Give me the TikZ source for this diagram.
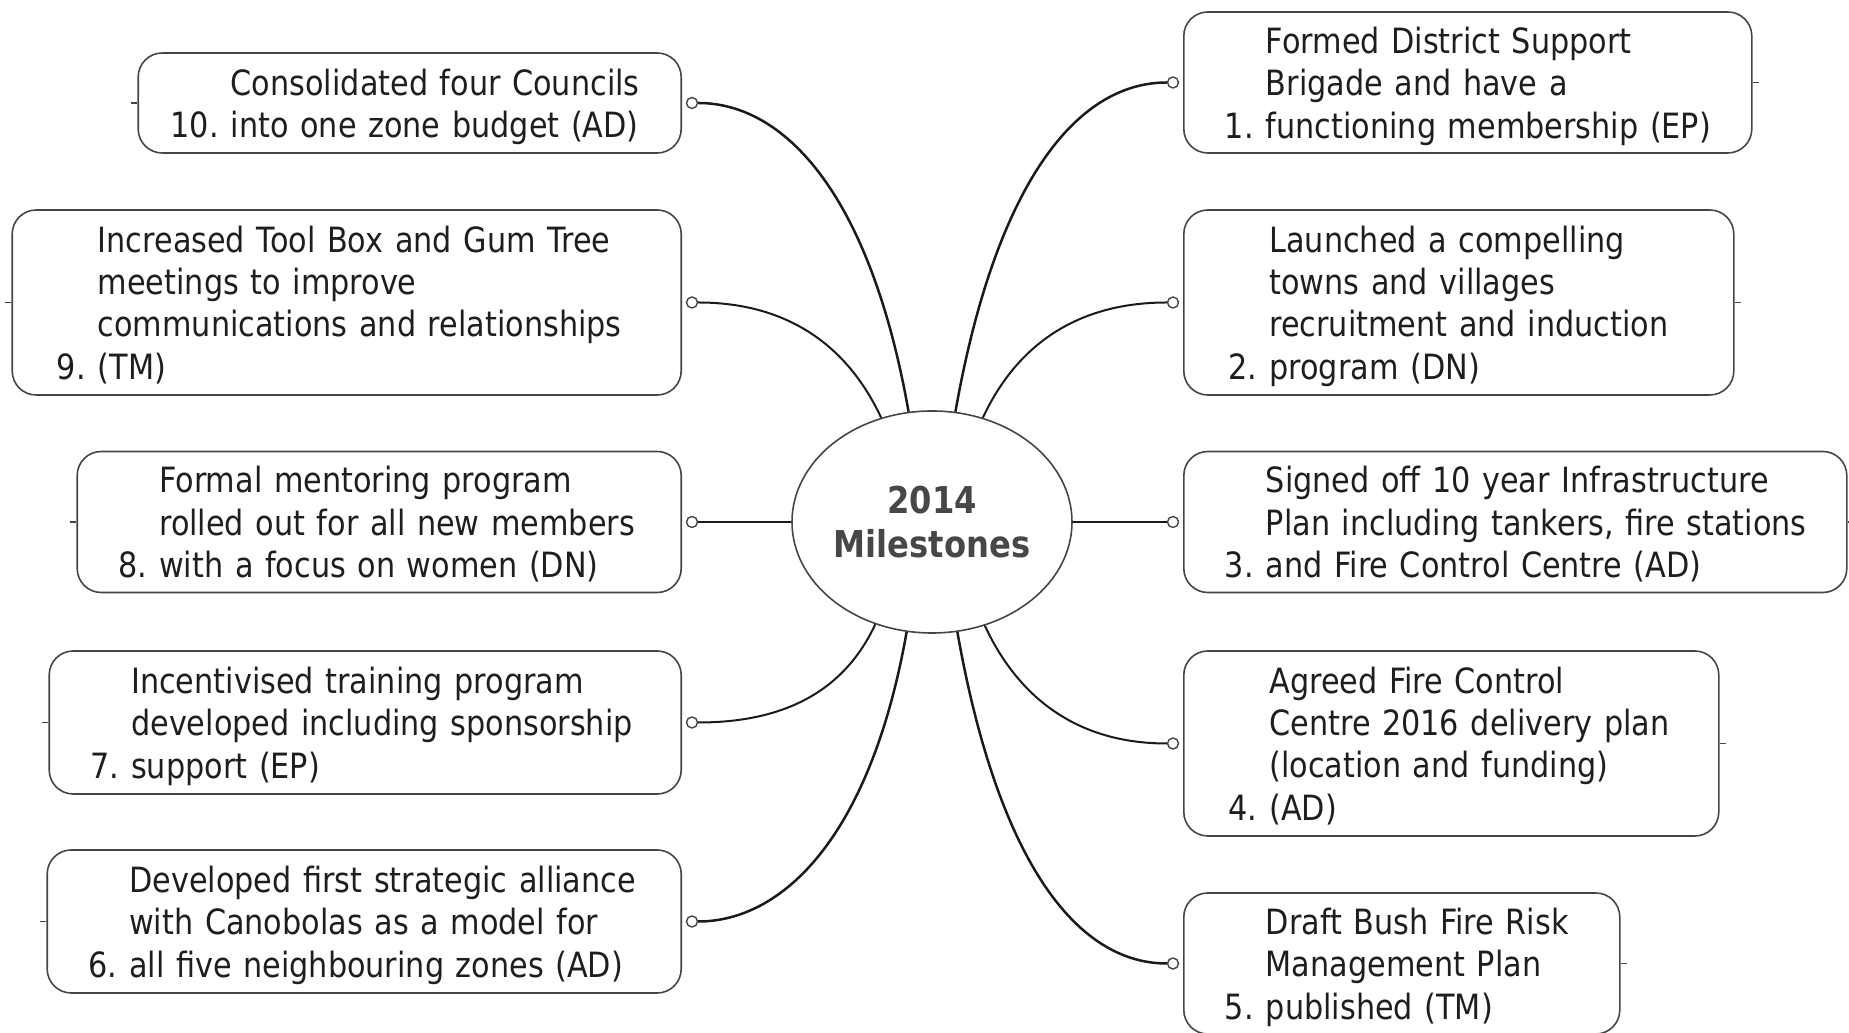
\documentclass[tikz,border=0pt]{standalone}
\usepackage{fontspec}
\setmainfont{DejaVu Sans}[FakeStretch=0.87]
\usetikzlibrary{shapes.geometric}
\definecolor{inkc}{HTML}{1E1E1E}
\definecolor{linec}{HTML}{454545}
\definecolor{wirec}{HTML}{1A1A1A}
\definecolor{hubc}{HTML}{474747}
\newlength\lblw
\setlength\lblw{37pt}
\newcommand\lbl[1]{\makebox[\lblw][r]{#1\hspace{6pt}}}
\newcommand\mstext[1]{\raisebox{-2.4pt}[\height][\depth]{\begin{tabular}{@{}l@{}}#1\end{tabular}}}

\begin{document}
\begin{tikzpicture}[x=0.5pt,y=0.5pt,
    mbox/.style={draw=linec,line width=0.8pt,rounded corners=12pt,inner xsep=4pt,inner ysep=2pt,
      align=left,text=inkc,font=\fontsize{17.4}{21.2}\selectfont},
    lbox/.style={mbox,anchor=east},
    rbox/.style={mbox,anchor=west},
    wide/.style={execute at begin node={\setlength\lblw{#1}}},
    port/.style={circle,draw=linec,fill=white,line width=0.7pt,inner sep=0pt,minimum size=5.5pt},
    link/.style={wirec,line width=1pt},
    inner link/.style={wirec,line width=1.25pt}]

  \useasboundingbox (0,0) rectangle (1849,1033);

  \node[ellipse,draw=linec,line width=0.8pt,inner sep=0pt,minimum width=140pt,minimum height=111pt,
    align=center,text=hubc,font=\bfseries\fontsize{18.5}{22}\selectfont] (hub) at (932,511)
    {2014\\Milestones};

  % left side
  \node[lbox,wide=42.3pt,text width=263.5pt,minimum height=50pt] (ms10) at (682,930)
    {\mstext{\lbl{}Consolidated four Councils\\
     \lbl{10.}into one zone budget (AD)}};
  \node[lbox,wide=38.8pt,text width=326.5pt,minimum height=92.5pt] (ms9) at (682,730.5)
    {\mstext{\lbl{}Increased Tool Box and Gum Tree\\
     \lbl{}meetings to improve\\ \lbl{}communications and relationships\\
     \lbl{9.}(TM)}};
  \node[lbox,text width=294pt,minimum height=70.5pt] (ms8) at (682,511)
    {\mstext{\lbl{}Formal mentoring program\\
     \lbl{}rolled out for all new members\\
     \lbl{8.}with a focus on women (DN)}};
  \node[lbox,text width=308pt,minimum height=71.5pt] (ms7) at (682,310.5)
    {\mstext{\lbl{}Incentivised training program\\
     \lbl{}developed including sponsorship\\
     \lbl{7.}support (EP)}};
  \node[lbox,text width=309pt,minimum height=71.5pt] (ms6) at (682,111.5)
    {\mstext{\lbl{}Developed first strategic alliance\\
     \lbl{}with Canobolas as a model for\\
     \lbl{6.}all five neighbouring zones (AD)}};

  % right side
  \node[rbox,text width=276pt,minimum height=70.5pt] (ms1) at (1183,950.5)
    {\mstext{\lbl{}Formed District Support\\
     \lbl{}Brigade and have a\\
     \lbl{1.}functioning membership (EP)}};
  \node[rbox,wide=38.8pt,text width=267pt,minimum height=92.5pt] (ms2) at (1183,730.5)
    {\mstext{\lbl{}Launched a compelling\\
     \lbl{}towns and villages\\ \lbl{}recruitment and induction\\
     \lbl{2.}program (DN)}};
  \node[rbox,text width=323.5pt,minimum height=70.5pt] (ms3) at (1183,511)
    {\mstext{\lbl{}Signed off 10 year Infrastructure\\
     \lbl{}Plan including tankers, fire stations\\
     \lbl{3.}and Fire Control Centre (AD)}};
  \node[rbox,wide=38.8pt,text width=259.5pt,minimum height=92.5pt] (ms4) at (1183,289.5)
    {\mstext{\lbl{}Agreed Fire Control\\
     \lbl{}Centre 2016 delivery plan\\ \lbl{}(location and funding)\\
     \lbl{4.}(AD)}};
  \node[rbox,text width=210pt,minimum height=70.5pt] (ms5) at (1183,69.5)
    {\mstext{\lbl{}Draft Bush Fire Risk\\
     \lbl{}Management Plan\\
     \lbl{5.}published (TM)}};

  % ports and stubs
  \foreach \i in {6,...,10}{
    \node[port] (p\i) at ([xshift=5pt]ms\i.east) {};
    \draw[linec,line width=0.8pt] (ms\i.west) -- ++(-3pt,0);}
  \foreach \i in {1,...,5}{
    \node[port] (p\i) at ([xshift=-5pt]ms\i.west) {};
    \draw[linec,line width=0.8pt] (ms\i.east) -- ++(3pt,0);}

  % connectors
  \draw[inner link] (p10) to[out=0,in=100,out looseness=0.6,in looseness=1.5] (hub.102);
  \draw[link] (p9) to[out=0,in=115] (hub.116);
  \draw[link] (p8) -- (hub.west);
  \draw[link] (p7) to[out=0,in=-115] (hub.-119);
  \draw[inner link] (p6) to[out=0,in=-100,out looseness=0.6,in looseness=1.5] (hub.-103);
  \draw[inner link] (p1) to[out=180,in=80,out looseness=0.6,in looseness=1.5] (hub.78);
  \draw[link] (p2) to[out=180,in=65] (hub.64);
  \draw[link] (p3) -- (hub.east);
  \draw[link] (p4) to[out=180,in=-65] (hub.-63);
  \draw[inner link] (p5) to[out=180,in=-80,out looseness=0.6,in looseness=1.5] (hub.-77);
\end{tikzpicture}
\end{document}
